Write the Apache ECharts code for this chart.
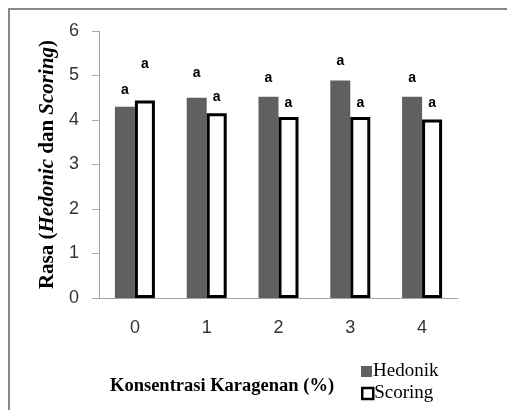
<!DOCTYPE html>
<html>
<head>
<meta charset="utf-8">
<script src="https://cdn.jsdelivr.net/npm/echarts@6/dist/echarts.min.js"></script>
<style>html,body{margin:0;padding:0;background:#fff}#c{width:507px;height:410px}</style>
</head>
<body>
<div id="c"></div>
<script>
const categories = ['0', '1', '2', '3', '4'];
const hedonik = [4.30, 4.50, 4.52, 4.89, 4.52];
const scoring = [4.44, 4.15, 4.07, 4.07, 4.01];
const hedonikLetters = ['a', 'a', 'a', 'a', 'a'];
const scoringLetters = ['a', 'a', 'a', 'a', 'a'];
const yTicks = [0, 1, 2, 3, 4, 5, 6];

// label lift above bar (style)
const hedLift = [10, 18, 12, 12, 12];
const scoLift = [29, 9, 7, 7, 9];

const letterStyle = {
  show: true, position: 'top', color: '#000',
  fontFamily: 'Liberation Sans Narrow, Liberation Sans', fontWeight: 'bold', fontSize: 14
};

const legendText = { fontFamily: 'Liberation Serif', fontSize: 19, color: '#000', padding: [0, 0, 0, -4] };

const chart = echarts.init(document.getElementById('c'));
chart.setOption({
  animation: false,
  grid: { left: 99, right: 49, top: 31, bottom: 112 },
  xAxis: {
    type: 'category', data: categories,
    axisLine: { lineStyle: { color: '#a6a6a6', width: 1 } },
    axisTick: { show: false },
    axisLabel: { color: '#333', fontSize: 18, fontFamily: 'Liberation Sans', margin: 21 }
  },
  yAxis: {
    type: 'value', min: yTicks[0], max: yTicks[yTicks.length - 1], interval: 1,
    splitLine: { show: false },
    axisLine: { show: true, lineStyle: { color: '#a6a6a6', width: 1 } },
    axisTick: { show: true, length: 7, lineStyle: { color: '#a6a6a6' } },
    axisLabel: { color: '#333', fontSize: 18, fontFamily: 'Liberation Sans', margin: 20 },
    name: '{b|Rasa (}{bi|Hedonic}{b| dan }{bi|Scoring}{b|)}',
    nameLocation: 'middle', nameGap: 33, nameRotate: 90,
    nameTextStyle: {
      rich: {
        b: { fontFamily: 'Liberation Serif', fontWeight: 'bold', fontSize: 21, color: '#000' },
        bi: { fontFamily: 'Liberation Serif', fontWeight: 'bold', fontStyle: 'italic', fontSize: 21, color: '#000' }
      }
    }
  },
  legend: [
    { left: 356, top: 357, itemWidth: 11, itemHeight: 11, textStyle: legendText,
      data: [{ name: 'Hedonik', icon: 'rect', itemStyle: { color: '#606060', borderWidth: 0 } }] },
    { left: 356, top: 379, itemWidth: 11, itemHeight: 11, textStyle: legendText,
      data: [{ name: 'Scoring', icon: 'rect', itemStyle: { color: '#fff', borderColor: '#000', borderWidth: 2.5 } }] }
  ],
  graphic: [
    { type: 'rect', silent: true, shape: { x: 9, y: 9, width: 600, height: 500 },
      style: { fill: 'none', stroke: '#888', lineWidth: 2 } },
    { type: 'text', left: 110, top: 377,
      style: { text: 'Konsentrasi Karagenan (%)', fontFamily: 'Liberation Serif', fontWeight: 'bold', fontSize: 18.5, fill: '#000' } }
  ],
  series: [
    {
      name: 'Hedonik', type: 'bar', barWidth: 20, barGap: '0%',
      itemStyle: { color: '#606060' },
      data: hedonik.map((v, i) => ({ value: v, label: Object.assign({}, letterStyle, { distance: hedLift[i], formatter: hedonikLetters[i] }) }))
    },
    {
      name: 'Scoring', type: 'bar', barWidth: 20,
      itemStyle: { color: '#fff', borderColor: '#000', borderWidth: 3 },
      data: scoring.map((v, i) => ({ value: v, label: Object.assign({}, letterStyle, { distance: scoLift[i], formatter: scoringLetters[i] }) }))
    }
  ]
});
</script>
</body>
</html>
